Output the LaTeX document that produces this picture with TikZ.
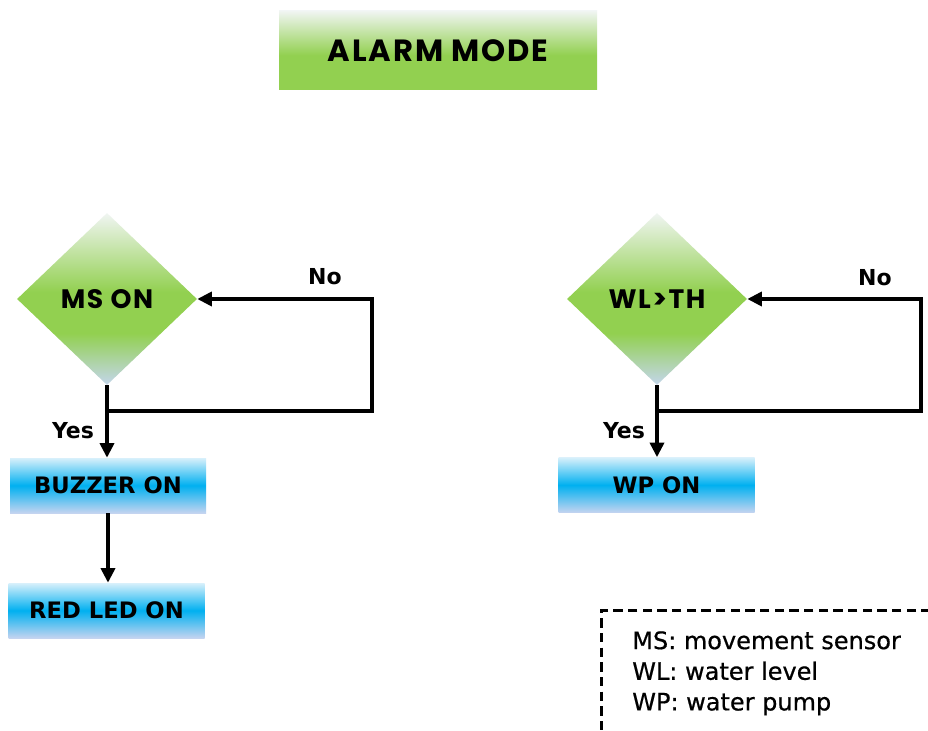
\documentclass[tikz,border=0pt]{standalone}
\usepackage{fontspec}
\setmainfont{DejaVu Sans}
\newfontfamily\titlefont{Poppins}[LetterSpace=6]
\newfontfamily\heavyfont{DejaVu Sans}[FakeBold=0.6]
\usetikzlibrary{shapes.geometric,arrows.meta}
\definecolor{tgreen}{HTML}{92D050}
\definecolor{twhite}{HTML}{F0F5F2}
\definecolor{dblue}{HTML}{C4D6EC}
\definecolor{bvivid}{HTML}{00B0F0}
\definecolor{btop}{HTML}{D8F0FB}
\definecolor{bbot}{HTML}{C4D4F0}
\pgfdeclareverticalshading{titleshade}{100bp}{color(0bp)=(tgreen); color(25bp)=(tgreen); color(47bp)=(tgreen); color(75bp)=(twhite); color(100bp)=(twhite)}
\pgfdeclareverticalshading{decshade}{100bp}{color(0bp)=(dblue); color(25bp)=(dblue); color(40bp)=(tgreen); color(52bp)=(tgreen); color(75bp)=(twhite); color(100bp)=(twhite)}
\pgfdeclareverticalshading{actshade}{100bp}{color(0bp)=(bbot); color(25bp)=(bbot); color(50bp)=(bvivid); color(75bp)=(btop); color(100bp)=(btop)}
\tikzset{
  titlebox/.style={rectangle, shading=titleshade, inner sep=0pt, minimum width=238.5pt, minimum height=59.25pt, font=\titlefont\bfseries\fontsize{23}{23}\selectfont},
  dec/.style={diamond, shading=decshade, inner sep=0pt, minimum width=135pt, minimum height=129pt, font=\titlefont\bfseries\fontsize{20}{20}\selectfont},
  act/.style={rectangle, shading=actshade, inner sep=0pt, minimum width=147pt, minimum height=41.25pt, font=\bfseries\fontsize{17}{17}\selectfont},
  lab/.style={inner sep=0pt, font=\bfseries\fontsize{16.5}{16.5}\selectfont},
  conn/.style={line width=2.8pt, line join=miter, -{Triangle[length=11pt,width=10.5pt]}},
  legbox/.style={draw, line width=2pt, dash pattern=on 7pt off 4pt, rectangle, minimum width=300pt, minimum height=120pt, anchor=north west, inner sep=0pt}
}
\begin{document}
\begin{tikzpicture}[x=0.75pt,y=-0.75pt]
\useasboundingbox (0,0) rectangle (928,731);
\clip (0,0) rectangle (928,731);
\fill[white] (0,0) rectangle (928,731);

\node[titlebox] (title) at (438,50.5) {ALARM MODE};

\node[dec] (d1) at (107,299) {MS ON};
\node[dec] (d2) at (657,299) {WL>TH};

\node[act] (b1) at (108,485.5) {BUZZER ON};
\node[act] (b2) at (106.5,610.5) {RED LED ON};
\node[act] (b3) at (656.5,485) {WP ON};

% left branch
\coordinate (j1) at (107,411);
\draw[conn] (d1.south) -- (d1.south |- b1.north);
\draw[conn] (j1) -- (372,411) |- (d1.east);
\draw[conn] (b1.south) -- (b1.south |- b2.north);
\node[lab] (yes1) at (73,431) {Yes};
\node[lab] (no1) at (325,277) {No};

% right branch
\coordinate (j2) at (657,411);
\draw[conn] (d2.south) -- (d2.south |- b3.north);
\draw[conn] (j2) -- (921,411) |- (d2.east);
\node[lab] (yes2) at (624,431) {Yes};
\node[lab] (no2) at (875,278) {No};

% legend
\node[legbox] (leg) at (600,609) {};
\node[anchor=north west, align=left, inner sep=0pt, font=\heavyfont\fontsize{18}{23}\selectfont] (legtext) at (632,631) {MS: movement sensor\\WL: water level\\WP: water pump};
\end{tikzpicture}
\end{document}
